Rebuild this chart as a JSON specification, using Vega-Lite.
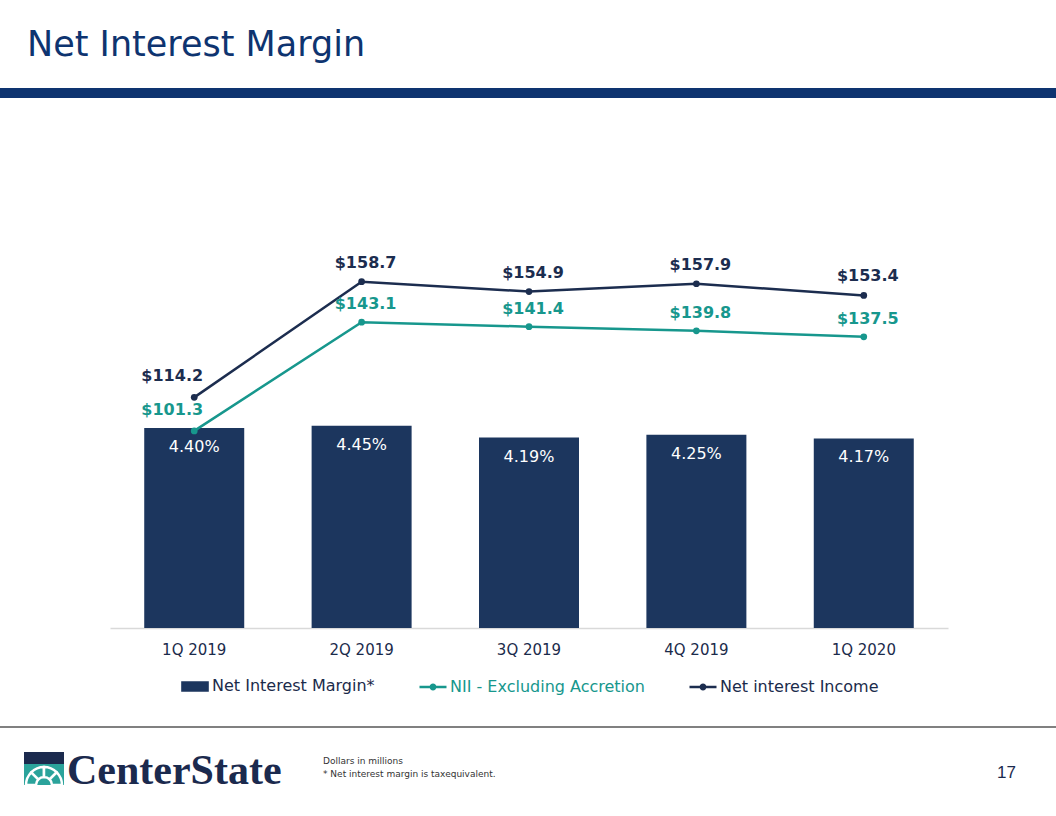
{
  "$schema": "https://vega.github.io/schema/vega-lite/v6.json",
  "background": "white",
  "padding": {"left": 0, "top": 28, "right": 0, "bottom": 0},
  "config": {
    "view": {"stroke": null},
    "font": "DejaVu Sans",
    "legend": {"layout": {"bottom": {"anchor": "middle"}}}
  },
  "title": {
    "text": "Net Interest Margin",
    "anchor": "start",
    "dx": 27,
    "offset": 25,
    "fontSize": 35,
    "font": "DejaVu Sans",
    "fontWeight": "normal",
    "color": "#0e3470"
  },
  "spacing": 30,
  "resolve": {"scale": {"color": "independent"}, "legend": {"color": "independent"}},
  "vconcat": [
    {
      "width": 1056,
      "height": 10,
      "view": {"fill": "#0e3470", "stroke": null},
      "data": {"values": []},
      "mark": "point"
    },
    {
      "spacing": 0,
      "resolve": {"scale": {"color": "independent"}, "legend": {"color": "independent"}},
      "hconcat": [
        {"width": 110, "height": 500, "data": {"values": []}, "mark": "point"},
        {
          "width": 838,
          "height": 500,
          "data": {
            "values": [
              {"quarter": "1Q 2019", "nim": 0.0440, "nii_ex": 101.3, "nii": 114.2},
              {"quarter": "2Q 2019", "nim": 0.0445, "nii_ex": 143.1, "nii": 158.7},
              {"quarter": "3Q 2019", "nim": 0.0419, "nii_ex": 141.4, "nii": 154.9},
              {"quarter": "4Q 2019", "nim": 0.0425, "nii_ex": 139.8, "nii": 157.9},
              {"quarter": "1Q 2020", "nim": 0.0417, "nii_ex": 137.5, "nii": 153.4}
            ]
          },
          "encoding": {
            "x": {
              "field": "quarter",
              "type": "nominal",
              "sort": null,
              "scale": {"paddingInner": 0.4026, "paddingOuter": 0.2045},
              "axis": {
                "title": null,
                "labelAngle": 0,
                "labelFont": "DejaVu Sans",
                "labelFontSize": 15,
                "labelColor": "#1b2b4b",
                "labelPadding": 14,
                "ticks": false,
                "grid": false,
                "domainColor": "#d9d9d9",
                "domainWidth": 1.5
              }
            }
          },
          "layer": [
            {
              "mark": {"type": "bar"},
              "encoding": {
                "y": {"field": "nim", "type": "quantitative", "scale": {"domain": [0, 0.11]}, "axis": null},
                "color": {
                  "datum": "Net Interest Margin*",
                  "type": "nominal",
                  "scale": {
                    "domain": ["Net Interest Margin*", "NII - Excluding Accretion", "Net interest Income"],
                    "range": ["#1c365e", "#17978d", "#1c2d4f"]
                  },
                  "legend": {
                    "orient": "bottom",
                    "direction": "horizontal",
                    "title": null,
                    "labelFont": "DejaVu Sans",
                    "labelFontSize": 16,
                    "labelLimit": 400,
                    "labelOffset": 2,
                    "symbolSize": 729,
                    "columnPadding": 39,
                    "symbolStrokeWidth": 2.5,
                    "offset": 14,
                    "encode": {
                      "symbols": {
                        "update": {
                          "shape": {"signal": "datum.value === 'Net Interest Margin*' ? 'M-0.93,-0.3H0.93V0.3H-0.93Z' : 'M-1,0H1M-0.16,0A0.16,0.16,0,1,0,0.16,0A0.16,0.16,0,1,0,-0.16,0Z'"},
                          "fill": {"signal": "scale('color', datum.value)"},
                          "stroke": {"signal": "scale('color', datum.value)"},
                          "strokeWidth": {"value": 2.5},
                          "opacity": {"value": 1}
                        }
                      },
                      "labels": {
                        "update": {
                          "fill": {"signal": "datum.value === 'NII - Excluding Accretion' ? '#17978d' : '#1b2b4b'"}
                        }
                      }
                    }
                  }
                }
              }
            },
            {
              "mark": {"type": "text", "dy": 19, "baseline": "middle", "fontSize": 16, "font": "DejaVu Sans", "color": "white"},
              "encoding": {
                "y": {"field": "nim", "type": "quantitative", "scale": {"domain": [0, 0.11]}, "axis": null},
                "text": {"field": "nim", "type": "quantitative", "format": ".2%"}
              }
            },
            {
              "mark": {"type": "line", "strokeWidth": 2.5, "point": {"filled": true, "size": 45}},
              "encoding": {
                "y": {"field": "nii_ex", "type": "quantitative", "scale": {"domain": [25.5, 217.8]}, "axis": null},
                "color": {"datum": "NII - Excluding Accretion", "type": "nominal"}
              }
            },
            {
              "mark": {"type": "line", "strokeWidth": 2.5, "point": {"filled": true, "size": 45}},
              "encoding": {
                "y": {"field": "nii", "type": "quantitative", "scale": {"domain": [25.5, 217.8]}, "axis": null},
                "color": {"datum": "Net interest Income", "type": "nominal"}
              }
            },
            {
              "transform": [{"filter": "datum.quarter !== '1Q 2019'"}],
              "mark": {"type": "text", "dy": -18, "dx": 4, "baseline": "middle", "fontSize": 16, "fontWeight": "bold", "font": "DejaVu Sans", "color": "#17978d"},
              "encoding": {
                "y": {"field": "nii_ex", "type": "quantitative", "scale": {"domain": [25.5, 217.8]}, "axis": null},
                "text": {"field": "nii_ex", "type": "quantitative", "format": "$.1f"}
              }
            },
            {
              "transform": [{"filter": "datum.quarter === '1Q 2019'"}],
              "mark": {"type": "text", "dy": -21, "dx": -22, "baseline": "middle", "fontSize": 16, "fontWeight": "bold", "font": "DejaVu Sans", "color": "#17978d"},
              "encoding": {
                "y": {"field": "nii_ex", "type": "quantitative", "scale": {"domain": [25.5, 217.8]}, "axis": null},
                "text": {"field": "nii_ex", "type": "quantitative", "format": "$.1f"}
              }
            },
            {
              "transform": [{"filter": "datum.quarter !== '1Q 2019'"}],
              "mark": {"type": "text", "dy": -19, "dx": 4, "baseline": "middle", "fontSize": 16, "fontWeight": "bold", "font": "DejaVu Sans", "color": "#1c2d4f"},
              "encoding": {
                "y": {"field": "nii", "type": "quantitative", "scale": {"domain": [25.5, 217.8]}, "axis": null},
                "text": {"field": "nii", "type": "quantitative", "format": "$.1f"}
              }
            },
            {
              "transform": [{"filter": "datum.quarter === '1Q 2019'"}],
              "mark": {"type": "text", "dy": -21, "dx": -22, "baseline": "middle", "fontSize": 16, "fontWeight": "bold", "font": "DejaVu Sans", "color": "#1c2d4f"},
              "encoding": {
                "y": {"field": "nii", "type": "quantitative", "scale": {"domain": [25.5, 217.8]}, "axis": null},
                "text": {"field": "nii", "type": "quantitative", "format": "$.1f"}
              }
            }
          ],
          "resolve": {"scale": {"y": "independent"}}
        }
      ]
    },
    {
      "spacing": 22,
      "vconcat": [
        {
          "width": 1056,
          "height": 2,
          "view": {"fill": "#808080", "stroke": null},
          "data": {"values": []},
          "mark": "point"
        },
        {
          "spacing": 0,
          "align": "none",
          "concat": [
            {"width": 24, "height": 1, "data": {"values": []}, "mark": "point"},
            {
              "spacing": 0,
              "vconcat": [
                {"width": 40, "height": 12, "view": {"fill": "#1b2a4e", "stroke": null}, "data": {"values": []}, "mark": "point"},
                {
                  "width": 40,
                  "height": 21,
                  "view": {"fill": "#2ba39b", "stroke": null},
                  "data": {"values": [{"seg": "a", "v": 1}, {"seg": "b", "v": 1}, {"seg": "c", "v": 1}, {"seg": "d", "v": 1}]},
                  "mark": {"type": "arc", "innerRadius": 8, "outerRadius": 18, "fill": "#2ba39b", "stroke": "white", "strokeWidth": 2.5, "clip": true},
                  "encoding": {
                    "theta": {"field": "v", "type": "quantitative", "stack": true, "scale": {"range": [-1.5708, 1.5708]}},
                    "order": {"field": "seg"},
                    "x": {"datum": 0.5, "type": "quantitative", "scale": {"domain": [0, 1]}, "axis": null},
                    "y": {"datum": 0, "type": "quantitative", "scale": {"domain": [0, 1]}, "axis": null}
                  }
                }
              ]
            },
            {"width": 3, "height": 1, "data": {"values": []}, "mark": "point"},
            {
              "width": 240,
              "height": 1,
              "data": {"values": []},
              "mark": "point",
              "title": {"text": "CenterState", "orient": "bottom", "baseline": "top", "anchor": "start", "offset": -2, "fontSize": 42, "font": "Liberation Serif", "fontWeight": "bold", "color": "#1b2a4e"}
            },
            {"width": 16, "height": 1, "data": {"values": []}, "mark": "point"},
            {
              "width": 260,
              "height": 1,
              "data": {"values": []},
              "mark": "point",
              "title": {"text": ["Dollars in millions", "* Net interest margin is taxequivalent."], "orient": "bottom", "baseline": "top", "anchor": "start", "offset": 4, "fontSize": 9, "lineHeight": 13, "font": "DejaVu Sans", "fontWeight": "normal", "color": "#333333"}
            },
            {"width": 414, "height": 1, "data": {"values": []}, "mark": "point"},
            {
              "width": 30,
              "height": 1,
              "data": {"values": []},
              "mark": "point",
              "title": {"text": "17", "orient": "bottom", "baseline": "top", "anchor": "start", "offset": 12, "fontSize": 17, "font": "Liberation Sans", "fontWeight": "normal", "color": "#1b2a4e"}
            }
          ]
        }
      ]
    }
  ]
}
